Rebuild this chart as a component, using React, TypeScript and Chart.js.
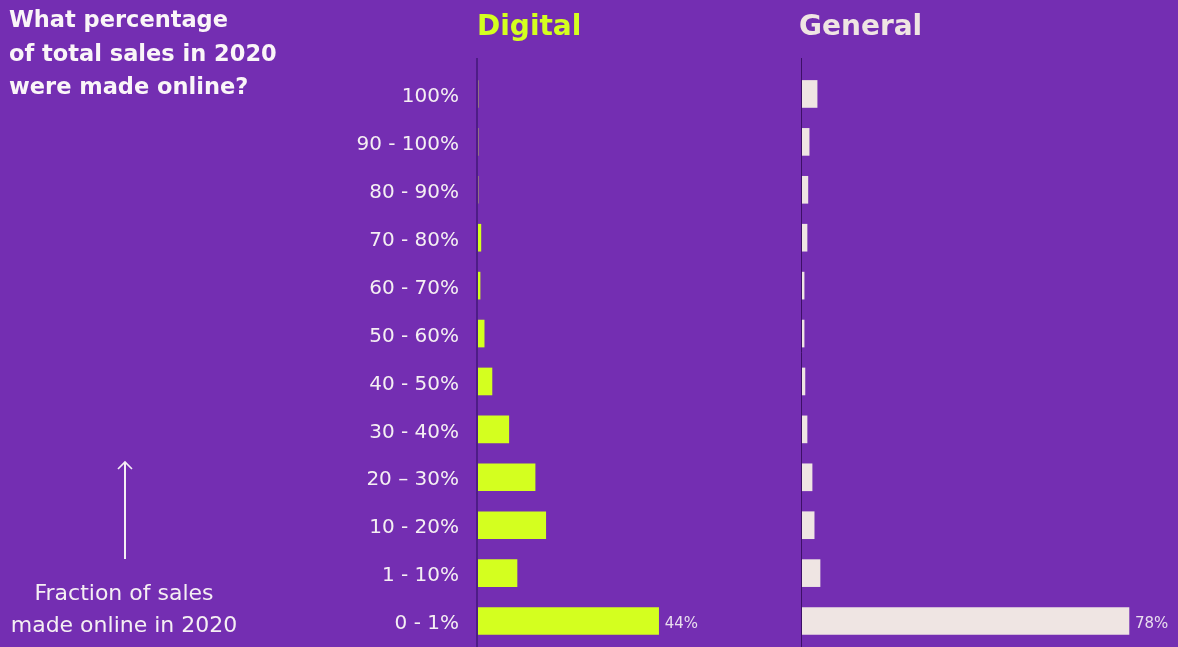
import React, { useEffect, useRef } from "react";
import { Chart, registerables } from "chart.js";

Chart.register(...registerables);

// ---- data ----
const categories = [
  "100%",
  "90 - 100%",
  "80 - 90%",
  "70 - 80%",
  "60 - 70%",
  "50 - 60%",
  "40 - 50%",
  "30 - 40%",
  "20 – 30%",
  "10 - 20%",
  "1 - 10%",
  "0 - 1%",
];
const digitalValues = [0, 0, 0, 0.7, 0.5, 1.5, 3.4, 7.5, 13.9, 16.5, 9.5, 44];
const generalValues = [3.6, 1.7, 1.4, 1.2, 0.5, 0.5, 0.7, 1.2, 2.4, 2.9, 4.3, 78];
const digitalLabels = ["", "", "", "", "", "", "", "", "", "", "", "44%"];
const generalLabels = ["", "", "", "", "", "", "", "", "", "", "", "78%"];
const digitalMax = 76;
const generalMax = 89.7;

// ---- styles ----
const BG = "#742EB2";
const LIME = "#D4FF1F";
const PALE = "#EFE5E3";
const TEXT = "#F5EFF3";
const FONT = "'DejaVu Sans', sans-serif";

function makePlugin(lineWidth: number, lineColor: string, labels: string[]) {
  return {
    id: "decor",
    beforeDraw(chart: any) {
      const ctx = chart.ctx;
      const x = chart.chartArea.left - lineWidth / 2;
      ctx.save();
      ctx.strokeStyle = lineColor;
      ctx.lineWidth = lineWidth;
      ctx.beginPath();
      ctx.moveTo(x, 58);
      ctx.lineTo(x, chart.height);
      ctx.stroke();
      ctx.restore();
    },
    afterDatasetsDraw(chart: any) {
      const ctx = chart.ctx;
      const meta = chart.getDatasetMeta(0);
      ctx.save();
      ctx.font = `15px ${FONT}`;
      ctx.fillStyle = "#E9DDEE";
      ctx.textAlign = "left";
      ctx.textBaseline = "middle";
      meta.data.forEach((bar: any, i: number) => {
        if (labels[i]) ctx.fillText(labels[i], bar.x + 6, bar.y + 3);
      });
      ctx.restore();
    },
  };
}

export default function App() {
  const leftRef = useRef<HTMLCanvasElement>(null);
  const rightRef = useRef<HTMLCanvasElement>(null);

  useEffect(() => {
    const left = new Chart(leftRef.current!, {
      type: "bar",
      data: {
        labels: categories,
        datasets: [
          {
            data: digitalValues,
            backgroundColor: LIME,
            borderWidth: 0,
            barThickness: 27,
          },
        ],
      },
      options: {
        indexAxis: "y",
        responsive: false,
        animation: false,
        devicePixelRatio: 1,
        layout: { padding: { top: 70, bottom: 2, left: 0, right: 0 } },
        plugins: { legend: { display: false }, tooltip: { enabled: false } },
        scales: {
          x: { display: false, min: 0, max: digitalMax },
          y: {
            type: "category",
            grid: { display: false, drawTicks: false },
            border: { display: false },
            afterFit: (s: any) => {
              s.width = 478;
              s.paddingTop = 0;
              s.paddingBottom = 0;
            },
            ticks: {
              color: TEXT,
              padding: 19,
              labelOffset: 3,
              font: { family: FONT, size: 20 },
            },
          },
        },
      },
      plugins: [makePlugin(2, "#4E1D86", digitalLabels)],
    } as any);

    const right = new Chart(rightRef.current!, {
      type: "bar",
      data: {
        labels: categories,
        datasets: [
          {
            data: generalValues,
            backgroundColor: PALE,
            borderWidth: 0,
            barThickness: 27,
          },
        ],
      },
      options: {
        indexAxis: "y",
        responsive: false,
        animation: false,
        devicePixelRatio: 1,
        layout: { padding: { top: 70, bottom: 2, left: 12, right: 0 } },
        plugins: { legend: { display: false }, tooltip: { enabled: false } },
        scales: {
          x: { display: false, min: 0, max: generalMax },
          y: { display: false, type: "category" },
        },
      },
      plugins: [makePlugin(1, "#3C1066", generalLabels)],
    } as any);

    return () => {
      left.destroy();
      right.destroy();
    };
  }, []);

  return (
    <div
      style={{
        position: "fixed",
        left: 0,
        top: 0,
        width: 1178,
        height: 647,
        background: BG,
        overflow: "hidden",
        fontFamily: FONT,
      }}
    >
      <canvas
        ref={leftRef}
        width={790}
        height={647}
        style={{ position: "absolute", left: 0, top: 0, width: 790, height: 647 }}
      />
      <canvas
        ref={rightRef}
        width={388}
        height={647}
        style={{ position: "absolute", left: 790, top: 0, width: 388, height: 647 }}
      />
      <div
        style={{
          position: "absolute",
          left: 9,
          top: 3,
          fontSize: 22.5,
          lineHeight: "33.5px",
          fontWeight: 700,
          color: "#FAF5F8",
        }}
      >
        What percentage
        <br />
        of total sales in 2020
        <br />
        were made online?
      </div>
      <div
        style={{
          position: "absolute",
          left: 477,
          top: 12,
          fontSize: 28,
          lineHeight: "28px",
          fontWeight: 700,
          color: LIME,
        }}
      >
        Digital
      </div>
      <div
        style={{
          position: "absolute",
          left: 799,
          top: 12,
          fontSize: 28,
          lineHeight: "28px",
          fontWeight: 700,
          color: PALE,
        }}
      >
        General
      </div>
      <svg
        width={30}
        height={110}
        style={{ position: "absolute", left: 110, top: 455 }}
      >
        <line x1={15} y1={8} x2={15} y2={104} stroke="#F5EEF4" strokeWidth={2} />
        <polyline
          points="8,14 15,7 22,14"
          fill="none"
          stroke="#F5EEF4"
          strokeWidth={1.6}
        />
      </svg>
      <div
        style={{
          position: "absolute",
          left: 0,
          width: 248,
          top: 577,
          fontSize: 22,
          lineHeight: "32px",
          textAlign: "center",
          color: TEXT,
        }}
      >
        Fraction of sales
        <br />
        made online in 2020
      </div>
    </div>
  );
}
